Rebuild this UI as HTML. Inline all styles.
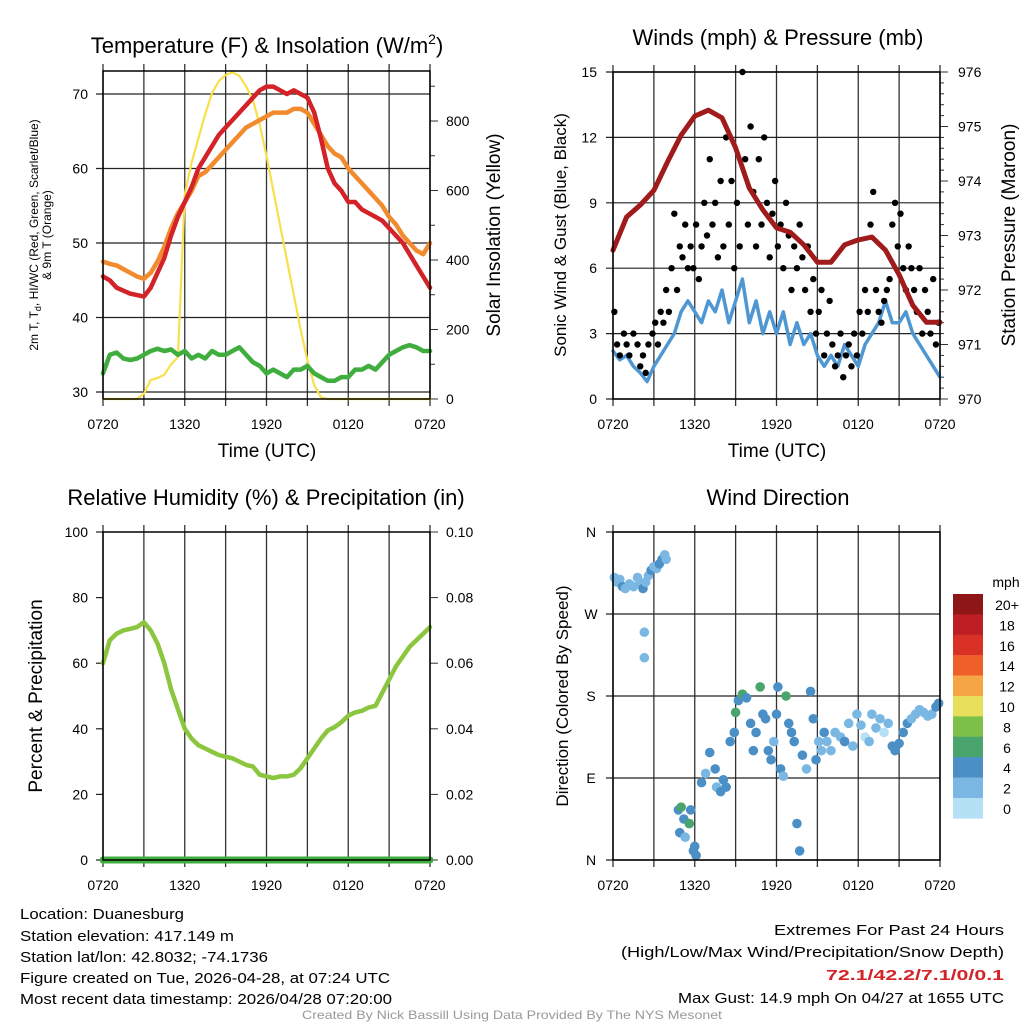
<!DOCTYPE html>
<html><head><meta charset="utf-8"><style>
html,body{margin:0;padding:0;background:#fff;}
svg{display:block;font-family:"Liberation Sans",sans-serif;}
</style></head><body>
<svg id="fig" width="1024" height="1024" viewBox="0 0 1024 1024"></svg>
<script>
// ---------- DATA ----------
const timeTicks = ["0720","1320","1920","0120","0720"];
// half-hourly series (49 values, 0..24h)
const temp2m = [45.5,45,44,43.6,43.2,43,42.8,44,46,48,51,53.5,55.5,57.5,60,61.5,63,64.5,65.5,66.5,67.5,68.5,69.5,70.5,71,71,70.5,70,70.5,70,69.5,67.5,64,60,58,57,55.5,55.5,54.5,54,53.5,53,52,51,50,48.5,47,45.5,44];
const temp9m = [47.5,47.2,47,46.5,46,45.5,45.2,46,47.5,49.5,52,54,55.5,57,59,59.5,60.5,61.5,62.5,63.5,64.5,65.5,66,66.5,67,67.5,67.5,67.5,68,68,67.5,66,64.5,63,62,61.5,60,59,58,57,56,55,53.5,52.5,51,50,49,48.5,50];
const dewpt = [32.5,35,35.3,34.5,34.3,34.5,35,35.5,35.8,35.5,35.7,35,35.5,34.5,35,34.5,35.5,35,35,35.5,36,35,34,33.5,32.5,33,32.5,32,33,33,33.5,32.5,32,31.5,31.5,32,32,33,33,33.5,33,34,35,35.5,36,36.3,36,35.5,35.5];
const solar = [0,0,0,0,0,0,15,55,60,70,100,120,590,680,750,820,880,915,932,940,930,900,860,790,700,600,500,400,300,200,112,40,5,0,0,0,0,0,0,0,0,0,0,0,0,0,0,0,0];
const windSpd = [2.2,1.8,2.0,1.5,1.2,0.8,1.5,2,2.5,3,4,4.5,4,3.5,4.5,4,5,3.5,4.5,5.5,3.5,4.5,3,4,3,4,2.5,3.5,2.5,3,2,1.5,2,1.5,2.5,2,1.5,2.5,3,3.5,4.5,3.5,3.5,4,3,2.5,2,1.5,1];
const humidity = [60,67,69,70,70.5,71,72.5,70,66,60,52,46,40,37,35,34,33,32,31.5,31,30,29,28.5,26,25.5,25,25.5,25.5,26,28,31,34,37,39.5,40.5,42,44,45,45.5,46.5,47,51,55,59,62,65,67,69,71];
const precip = [0,0,0,0,0,0,0,0,0,0,0,0,0,0,0,0,0,0,0,0,0,0,0,0,0,0,0,0,0,0,0,0,0,0,0,0,0,0,0,0,0,0,0,0,0,0,0,0,0];
// hourly pressure (25 values)
const pressure = [972.73,973.34,973.56,973.83,974.35,974.84,975.19,975.30,975.16,974.61,973.87,973.47,973.14,973.06,972.83,972.51,972.51,972.83,972.92,972.97,972.73,972.28,971.72,971.41,971.41];
// gust scatter
const gustT = [0.1,0.3,0.5,0.8,1.0,1.2,1.5,1.8,2.0,2.2,2.4,2.6,2.9,3.1,3.3,3.5,3.7,3.9,4.1,4.3,4.5,4.7,4.9,5.1,5.3,5.5,5.7,5.9,6.1,6.3,6.5,6.7,6.9,7.1,7.3,7.5,7.7,7.9,8.1,8.3,8.5,8.7,8.9,9.1,9.3,9.5,9.7,9.9,10.1,10.3,10.5,10.7,10.9,11.1,11.3,11.5,11.7,11.9,12.1,12.3,12.5,12.7,12.9,13.1,13.3,13.5,13.7,13.9,14.1,14.3,14.5,14.7,14.9,15.1,15.3,15.5,15.7,15.9,16.1,16.3,16.5,16.7,16.9,17.1,17.3,17.5,17.7,17.9,18.1,18.3,18.5,18.7,18.9,19.1,19.3,19.5,19.7,19.9,20.1,20.3,20.5,20.7,20.9,21.1,21.3,21.5,21.7,21.9,22.1,22.3,22.5,22.7,22.9,23.1,23.3,23.5,23.7,23.9];
const gustV = [4,2.5,2,3,2.5,2,3,2.5,1.5,2,1.2,2.5,3,3.5,2.5,4,3.5,5,4,6,8.5,5,7,6.5,8,6,7,6,8,5.5,7,9,7.5,11,8,9,6.5,10,7,12,8,10,6,9,7,15,11,8,12.5,9.5,7,11,8,12,9,6.5,8.5,10,7,8,6,9,7.5,5,7,6,8,6.5,5,7,4,5.5,3,4,5,2,3,4.5,2.5,1.5,2,3,1,2,2.5,1.5,3,2,4,3,5,4,8,9.5,5,4,3.5,4.5,5,5.5,8,9,7,8.5,6,5,7,6,5,4,6,3,5,4,3,5.5,2.5,3.5];
// wind direction scatter
const dirT = [0.1,0.3,0.5,0.7,0.9,1.2,1.5,1.8,2.0,2.2,2.4,2.6,2.8,3.0,3.2,3.4,3.6,3.8,3.9,2.3,2.3,4.8,4.9,5.0,5.2,5.3,5.6,5.7,5.9,6.0,6.1,6.5,6.8,7.1,7.5,7.6,7.9,8.1,8.3,8.6,8.9,9.0,9.2,9.5,9.8,10.1,10.3,10.5,10.8,11.0,11.2,11.4,11.6,11.8,12.0,12.1,12.3,12.5,12.7,12.9,13.1,13.3,13.5,13.7,13.9,14.2,14.5,14.7,14.9,15.1,15.3,15.5,15.7,16.0,16.3,16.7,17.0,17.3,17.6,17.9,18.2,18.5,18.8,19.0,19.3,19.6,19.9,20.2,20.5,20.7,21.0,21.3,21.6,21.9,22.2,22.5,22.8,23.1,23.4,23.7,23.9];
const dirV = [310,305,308,300,298,303,300,310,303,298,305,312,318,322,320,325,330,335,330,250,222,55,30,58,45,25,40,55,10,15,5,85,95,118,100,80,75,88,80,130,140,162,175,182,178,150,120,140,190,160,155,120,110,130,160,190,100,92,180,150,140,130,40,10,115,100,185,155,110,130,120,140,130,120,140,135,130,150,125,160,148,135,130,160,145,155,140,150,125,120,128,140,150,155,160,165,162,158,160,168,172];
const dirS = [2,2,1,3,2,1,2,1,2,3,1,2,3,2,2,3,3,2,2,1,1,4,3,5,4,2,6,3,4,3,4,3,2,3,4,2,3,4,3,4,3,6,4,5,3,4,3,4,5,3,4,3,4,2,3,4,3,2,5,4,3,3,4,4,3,2,4,3,3,2,2,3,2,2,2,2,3,2,1,1,1,0,1,2,1,1,0,2,3,3,4,4,3,2,2,1,2,1,1,3,3];
const legendLabels = ["20+","18","16","14","12","10","8","6","4","2","0"];
const legendColors = ["#8e1617","#bd1e24","#da3127","#ee5f2a","#f6a545","#e8e05a","#7cc04a","#4aa46d","#4a8fc6","#7ab8e3","#b5e1f5"];

// ---------- HELPERS ----------
const NS="http://www.w3.org/2000/svg";
const svg=document.getElementById('fig');
function mk(tag,attrs,parent){const e=document.createElementNS(NS,tag);for(const k in attrs)e.setAttribute(k,attrs[k]);(parent||svg).appendChild(e);return e;}
function txt(s,x,y,size,anchor,parent,extra){const e=mk('text',Object.assign({x:x,y:y,'font-size':size,'text-anchor':anchor||'middle',fill:'#000'},extra||{}),parent);e.textContent=s;return e;}
function lin(d0,d1,r0,r1){return v=>r0+(v-d0)/(d1-d0)*(r1-r0);}

function panel(name,x0,x1,y0,y1){
  const g=mk('g',{});
  
  
  // vertical grid every 3 hours + ticks
  const xs=lin(0,24,x0,x1);
  for(let h=0;h<=24;h+=3){
    const l=mk('line',{x1:xs(h),x2:xs(h),y1:y0-7,y2:y1+7,stroke:'#333','stroke-width':1.3},g);
    
    
  }
  timeTicks.forEach((t,i)=>{
    const e=txt(t,xs(i*6),y1+30,14,'middle',g);
    
    
  });
  return {g,xs};
}
function frame(g,x0,x1,y0,y1){
  const r=mk('rect',{x:x0,y:y0,width:x1-x0,height:y1-y0,fill:'none',stroke:'#000','stroke-width':1.5},g);
  
  
}
function hgrid(g,x0,x1,ys,vals,grid){
  vals.forEach(v=>{
    const l=mk('line',{x1:x0-7,x2:grid?x1:x0,y1:ys(v),y2:ys(v),stroke:'#222','stroke-width':1.2},g);
    
    
  });
}
function yticks(g,x,ys,vals,labels,anchor,size){
  vals.forEach((v,i)=>{
    const e=txt(labels[i],x,ys(v)+5,size||14,anchor,g);
    
    
  });
}
function rticks(g,x1,ys,vals,len){
  vals.forEach(v=>{mk('line',{x1:x1,x2:x1+len,y1:ys(v),y2:ys(v),stroke:'#333','stroke-width':1},g);});
}
function series(g,arr,step,xs,ys,color,w,name){
  const pts=arr.map((v,i)=>xs(i*step).toFixed(1)+','+ys(v).toFixed(1)).join(' ');
  const p=mk('polyline',{points:pts,fill:'none',stroke:color,'stroke-width':w,'stroke-linejoin':'round','stroke-linecap':'round'},g);
  
  
  return p;
}
function rotLabel(s,x,y,size,g,name){
  const e=txt(s,x,y,size,'middle',g,{transform:`rotate(-90 ${x} ${y})`});
  
  
  return e;
}
function title(s,x,y,name){
  const e=txt(s,x,y,22,'middle');
  
  
  return e;
}

// ---------- PANEL 1: Temperature ----------
{
  const X0=103,X1=430,Y0=71,Y1=399;
  const {g,xs}=panel('temperature-panel',X0,X1,Y0,Y1);
  const yL=lin(30,70,392,94);
  const yR=lin(0,800,399,121);
  hgrid(g,X0,X1,yL,[30,40,50,60,70],true);
  rticks(g,X1,yR,[0,200,400,600,800],8);
  rticks(g,X1,yR,[100,300,500,700,900],5);
  yticks(g,88,yL,[30,40,50,60,70],["30","40","50","60","70"],'end');
  yticks(g,446,yR,[0,200,400,600,800],["0","200","400","600","800"],'start');
  series(g,solar,0.5,xs,yR,'#f8e04a',2.2,'solar-insolation-line');
  series(g,dewpt,0.5,xs,yL,'#3fae3f',4.5,'dewpoint-line');
  series(g,temp9m,0.5,xs,yL,'#f28a2e',4.5,'temp-9m-line');
  series(g,temp2m,0.5,xs,yL,'#d42328',4.5,'temp-2m-line');
  frame(g,X0,X1,Y0,Y1);
  const t=title('',267,53,'temperature-title');
  t.innerHTML='Temperature (F) &amp; Insolation (W/m<tspan font-size="14" dy="-9">2</tspan><tspan dy="9">)</tspan>';
  rotLabel('2m T, T',38,235,12,g,'temperature-y-title').innerHTML='2m T, T<tspan font-size="9" dy="3">d</tspan><tspan dy="-3">, HI/WC (Red, Green, Scarlet/Blue)</tspan>';
  rotLabel('& 9m T (Orange)',51,235,12,g,'temperature-y-title-2');
  rotLabel('Solar Insolation (Yellow)',500,235,19,g,'solar-y-title');
  const xl=txt('Time (UTC)',267,457,19,'middle',g);
  
  
}
// ---------- PANEL 2: Winds ----------
{
  const X0=613,X1=940,Y0=72,Y1=399;
  const {g,xs}=panel('winds-panel',X0,X1,Y0,Y1);
  const yL=lin(0,15,399,72);
  const yR=lin(970,976,399,72);
  hgrid(g,X0,X1,yL,[0,3,6,9,12,15],true);
  rticks(g,X1,yR,[970,971,972,973,974,975,976],8);
  rticks(g,X1,yR,[970.2,970.4,970.6,970.8,971.2,971.4,971.6,971.8,972.2,972.4,972.6,972.8,973.2,973.4,973.6,973.8,974.2,974.4,974.6,974.8,975.2,975.4,975.6,975.8],4);
  yticks(g,597,yL,[0,3,6,9,12,15],["0","3","6","9","12","15"],'end');
  yticks(g,958,yR,[970,971,972,973,974,975,976],["970","971","972","973","974","975","976"],'start');
  series(g,windSpd,0.5,xs,yL,'#4f97d2',3.5,'wind-speed-line');
  gustT.forEach((t,i)=>{
    const c=mk('circle',{cx:xs(t),cy:yL(gustV[i]),r:3.2,fill:'#000'},g);
    
    
  });
  series(g,pressure,1,xs,yR,'#a01c1c',5,'pressure-line');
  frame(g,X0,X1,Y0,Y1);
  title('Winds (mph) & Pressure (mb)',778,45,'winds-title');
  rotLabel('Sonic Wind & Gust (Blue, Black)',566,235,17,g,'wind-y-title');
  rotLabel('Station Pressure (Maroon)',1015,235,19,g,'pressure-y-title');
  const xl=txt('Time (UTC)',777,457,19,'middle',g);
  
  
}
// ---------- PANEL 3: Humidity ----------
{
  const X0=103,X1=430,Y0=532,Y1=860;
  const {g,xs}=panel('humidity-panel',X0,X1,Y0,Y1);
  const yL=lin(0,100,860,532);
  const yR=lin(0,0.1,860,532);
  hgrid(g,X0,X1,yL,[0,20,40,60,80,100],false);
  rticks(g,X1,yR,[0,0.02,0.04,0.06,0.08,0.1],8);
  yticks(g,88,yL,[0,20,40,60,80,100],["0","20","40","60","80","100"],'end');
  yticks(g,446,yR,[0,0.02,0.04,0.06,0.08,0.1],["0.00","0.02","0.04","0.06","0.08","0.10"],'start');
  series(g,humidity,0.5,xs,yL,'#8cc63f',4.5,'humidity-line');
  series(g,precip,0.5,xs,yR,'#3fae3f',7,'precip-line');
  frame(g,X0,X1,Y0,Y1);
  title('Relative Humidity (%) & Precipitation (in)',266,505,'humidity-title');
  rotLabel('Percent & Precipitation',42,696,19,g,'humidity-y-title');
}
// ---------- PANEL 4: Wind Direction ----------
{
  const X0=613,X1=940,Y0=532,Y1=860;
  const {g,xs}=panel('wind-direction-panel',X0,X1,Y0,Y1);
  const yL=lin(0,360,860,532);
  hgrid(g,X0,X1,yL,[0,90,180,270,360],true);
  yticks(g,591,yL,[0,90,180,270,360],["N","E","S","W","N"],'middle');
  dirT.forEach((t,i)=>{
    const bin=Math.min(10,Math.floor(dirS[i]/2)+(dirS[i]>=1?1:0));
    const c=mk('circle',{cx:xs(t),cy:yL(dirV[i]),r:4.8,fill:legendColors[10-Math.min(10,Math.round(dirS[i]/2)+ (dirS[i]%2?0:0))]},g);
    
    
  });
  frame(g,X0,X1,Y0,Y1);
  title('Wind Direction',778,505,'wind-direction-title');
  rotLabel('Direction (Colored By Speed)',568,696,17,g,'direction-y-title');
  // legend
  const lg=mk('g',{});
  
  
  const u=txt('mph',1006,587,14,'middle',lg);
  legendLabels.forEach((l,i)=>{
    const r=mk('rect',{x:953,y:594+i*20.4,width:30,height:20.6,fill:legendColors[i]},lg);
    
    
    const e=txt(l,1007,610+i*20.4,14,'middle',lg);
    
    
  });
}
// ---------- FOOTER ----------
{
  const f=mk('g',{});
  
  
  const L=[["Location: Duanesburg",919,164],["Station elevation: 417.149 m",941,214],["Station lat/lon: 42.8032; -74.1736",962,248],["Figure created on Tue, 2026-04-28, at 07:24 UTC",983,370],["Most recent data timestamp: 2026/04/28 07:20:00",1004,372]];
  L.forEach(a=>{txt(a[0],20,a[1],15,'start',f,{textLength:a[2],lengthAdjust:'spacingAndGlyphs'});});
  const r=mk('g',{});
  
  
  txt('Extremes For Past 24 Hours',1004,935,15,'end',r,{textLength:230,lengthAdjust:'spacingAndGlyphs'});
  txt('(High/Low/Max Wind/Precipitation/Snow Depth)',1004,957,15,'end',r,{textLength:383,lengthAdjust:'spacingAndGlyphs'});
  txt('72.1/42.2/7.1/0/0.1',1004,980,15,'end',r,{fill:'#d42328','font-weight':'bold',textLength:178,lengthAdjust:'spacingAndGlyphs'});
  txt('Max Gust: 14.9 mph On 04/27 at 1655 UTC',1004,1003,15,'end',r,{textLength:326,lengthAdjust:'spacingAndGlyphs'});
  const c=txt('Created By Nick Bassill Using Data Provided By The NYS Mesonet',512,1019,12,'middle',null,{fill:'#999',textLength:420,lengthAdjust:'spacingAndGlyphs'});
  
  
}
</script>
</body></html>
